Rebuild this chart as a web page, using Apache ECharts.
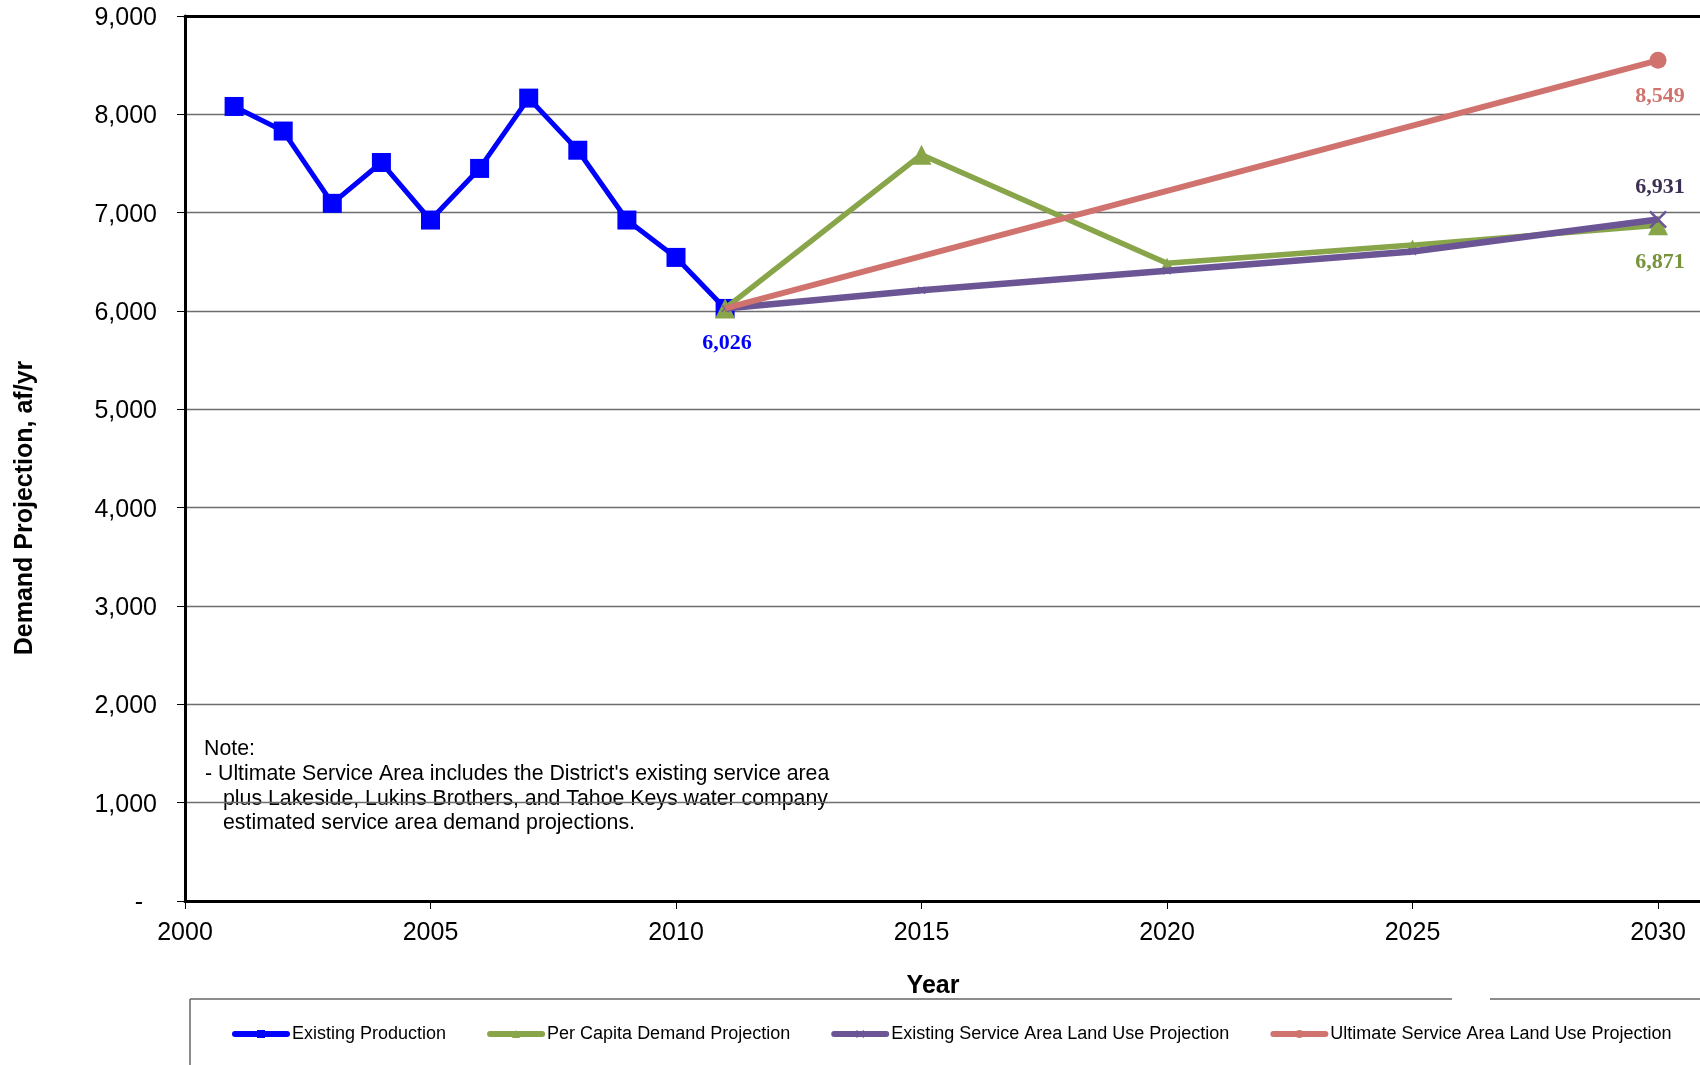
<!DOCTYPE html>
<html>
<head>
<meta charset="utf-8">
<title>Demand Projection</title>
<script src="https://cdn.jsdelivr.net/npm/echarts@6/dist/echarts.min.js"></script>
<style>
  html, body { margin: 0; padding: 0; background: #ffffff; }
  #chart { width: 1700px; height: 1065px; }
</style>
</head>
<body>
<div id="chart"></div>
<script>
// Historical production, af/yr
const productionYears = [2001, 2002, 2003, 2004, 2005, 2006, 2007, 2008, 2009, 2010, 2011];
const existingProduction = [8080, 7830, 7095, 7510, 6925, 7450, 8165, 7635, 6925, 6545, 6026];

// Projections, af/yr
const projectionYears = [2011, 2015, 2020, 2025, 2030];
const perCapitaDemand = [6026, 7590, 6485, 6670, 6871];
const existingAreaLandUse = [6026, 6210, 6410, 6605, 6931];
const ultimateYears = [2011, 2030];
const ultimateAreaLandUse = [6026, 8549];

const seriesNames = [
  'Existing Production',
  'Per Capita Demand Projection',
  'Existing Service Area Land Use Projection',
  'Ultimate Service Area Land Use Projection'
];

const noteLines = [
  'Note:',
  "- Ultimate Service Area includes the District's existing service area",
  'plus Lakeside, Lukins Brothers, and Tahoe Keys water company',
  'estimated service area demand projections.'
];

const SANS = '"Liberation Sans", Arial, Helvetica, sans-serif';
const SERIF = '"Liberation Serif", "Times New Roman", serif';

const fmt = v => Math.round(v).toLocaleString('en-US');

// Pair x/y arrays into points; one chosen year carries a value label.
function points(xs, ys, labelYear, labelStyle) {
  return xs.map((x, i) => {
    const item = { value: [x, ys[i]] };
    if (x === labelYear) {
      item.label = Object.assign({
        show: true,
        position: 'inside',
        formatter: p => fmt(p.value[1]),
        fontFamily: SERIF,
        fontWeight: 'bold',
        fontSize: 22
      }, labelStyle);
    }
    return item;
  });
}

const X_MARK = 'path://M1,0 L5,4 L9,0 L10,1 L6,5 L10,9 L9,10 L5,6 L1,10 L0,9 L4,5 L0,1 Z';

const chart = echarts.init(document.getElementById('chart'), null, { renderer: 'canvas' });

chart.setOption({
  animation: false,
  backgroundColor: '#ffffff',
  grid: { left: 185, right: 0, top: 16, bottom: 164, containLabel: false },
  xAxis: [
    {
      type: 'value',
      min: 2000,
      max: 2030.855,
      interval: 5,
      axisLine: { show: true, onZero: false, lineStyle: { color: '#000', width: 3 } },
      axisTick: { show: true, length: 8, lineStyle: { color: '#000', width: 1 } },
      axisLabel: {
        margin: 20,
        fontFamily: SANS,
        fontSize: 25,
        color: '#000',
        showMaxLabel: false,
        formatter: v => (Math.abs(v % 5) < 1e-6 ? String(v) : '')
      },
      splitLine: { show: false }
    },
    {
      type: 'value',
      position: 'top',
      min: 2000,
      max: 2030.855,
      axisLine: { show: true, onZero: false, lineStyle: { color: '#000', width: 3 } },
      axisTick: { show: false },
      axisLabel: { show: false },
      splitLine: { show: false }
    }
  ],
  yAxis: {
    type: 'value',
    min: 0,
    max: 9000,
    interval: 1000,
    axisLine: { show: true, onZero: false, lineStyle: { color: '#000', width: 3 } },
    axisTick: { show: true, length: 8, lineStyle: { color: '#000', width: 1 } },
    axisLabel: {
      margin: 28,
      fontFamily: SANS,
      fontSize: 25,
      color: '#000',
      formatter: v => '{n|' + (v === 0 ? '-  ' : fmt(v)) + '}',
      rich: {
        n: { fontFamily: SANS, fontSize: 25, color: '#000', padding: [4, 0, 0, 0] }
      }
    },
    splitLine: { show: true, lineStyle: { color: '#6e6e6e', width: 1.3 } }
  },
  legend: {
    left: 232,
    top: 1025,
    padding: 0,
    itemWidth: 52,
    itemHeight: 10,
    itemGap: 41,
    lineStyle: { width: 6, cap: 'round' },
    textStyle: { fontFamily: SANS, fontSize: 18, color: '#000' },
    data: seriesNames
  },
  series: [
    {
      name: seriesNames[0],
      type: 'line',
      data: points(productionYears, existingProduction, 2011, { color: '#0000ff', offset: [2, 35] }),
      color: '#0000ff',
      lineStyle: { width: 5, color: '#0000ff' },
      itemStyle: { color: '#0000ff' },
      symbol: 'rect',
      symbolSize: 19,
      z: 2
    },
    {
      name: seriesNames[1],
      type: 'line',
      data: points(projectionYears, perCapitaDemand, 2030, { color: '#77933c', offset: [2, 37] }),
      color: '#88a54a',
      lineStyle: { width: 5.5, color: '#88a54a' },
      itemStyle: { color: '#88a54a' },
      symbol: 'triangle',
      symbolSize: v => ([2011, 2015, 2030].indexOf(v[0]) >= 0 ? 20 : 11),
      z: 3
    },
    {
      name: seriesNames[2],
      type: 'line',
      data: points(projectionYears, existingAreaLandUse, 2030, { color: '#3d2f52', offset: [2, -32] }),
      color: '#6b5595',
      lineStyle: { width: 6.5, color: '#6b5595' },
      itemStyle: { color: '#6b5595' },
      symbol: X_MARK,
      symbolSize: v => (v[0] === 2030 ? 18 : 8),
      z: 4
    },
    {
      name: seriesNames[3],
      type: 'line',
      data: points(ultimateYears, ultimateAreaLandUse, 2030, { color: '#d0736e', offset: [2, 36] }),
      color: '#d0736e',
      lineStyle: { width: 6, color: '#d0736e' },
      itemStyle: { color: '#d0736e' },
      symbol: 'circle',
      symbolSize: v => (v[0] === 2030 ? 17 : 0),
      z: 5
    }
  ],
  graphic: [
    // axis titles
    {
      type: 'text',
      x: 25, y: 508,
      rotation: Math.PI / 2,
      style: {
        text: 'Demand Projection, af/yr',
        fontFamily: SANS, fontSize: 25, fontWeight: 'bold', fill: '#000',
        align: 'center', verticalAlign: 'middle'
      }
    },
    {
      type: 'text',
      x: 933, y: 986,
      style: {
        text: 'Year',
        fontFamily: SANS, fontSize: 25, fontWeight: 'bold', fill: '#000',
        align: 'center', verticalAlign: 'middle'
      }
    },
    // note box
    {
      type: 'group',
      z: 100,
      children: [
        { type: 'rect', shape: { x: 199, y: 725, width: 659, height: 112 }, style: { fill: '#ffffff' } },
        { type: 'text', x: 204, y: 749, style: { text: noteLines[0], fontFamily: SANS, fontSize: 21.3, fill: '#000', verticalAlign: 'middle' } },
        { type: 'text', x: 205, y: 774, style: { text: noteLines[1], fontFamily: SANS, fontSize: 21.3, fill: '#000', verticalAlign: 'middle' } },
        { type: 'text', x: 223, y: 799, style: { text: noteLines[2], fontFamily: SANS, fontSize: 21.3, fill: '#000', verticalAlign: 'middle' } },
        { type: 'text', x: 223, y: 823, style: { text: noteLines[3], fontFamily: SANS, fontSize: 21.3, fill: '#000', verticalAlign: 'middle' } }
      ]
    },
    // legend frame
    {
      type: 'group',
      children: [
        { type: 'line', shape: { x1: 190, y1: 999, x2: 190, y2: 1065 }, style: { stroke: '#666', lineWidth: 1.5 } },
        { type: 'line', shape: { x1: 190, y1: 999, x2: 1452, y2: 999 }, style: { stroke: '#666', lineWidth: 1.5 } },
        { type: 'line', shape: { x1: 1490, y1: 999, x2: 1700, y2: 999 }, style: { stroke: '#666', lineWidth: 1.5 } }
      ]
    }
  ]
});
</script>
</body>
</html>
